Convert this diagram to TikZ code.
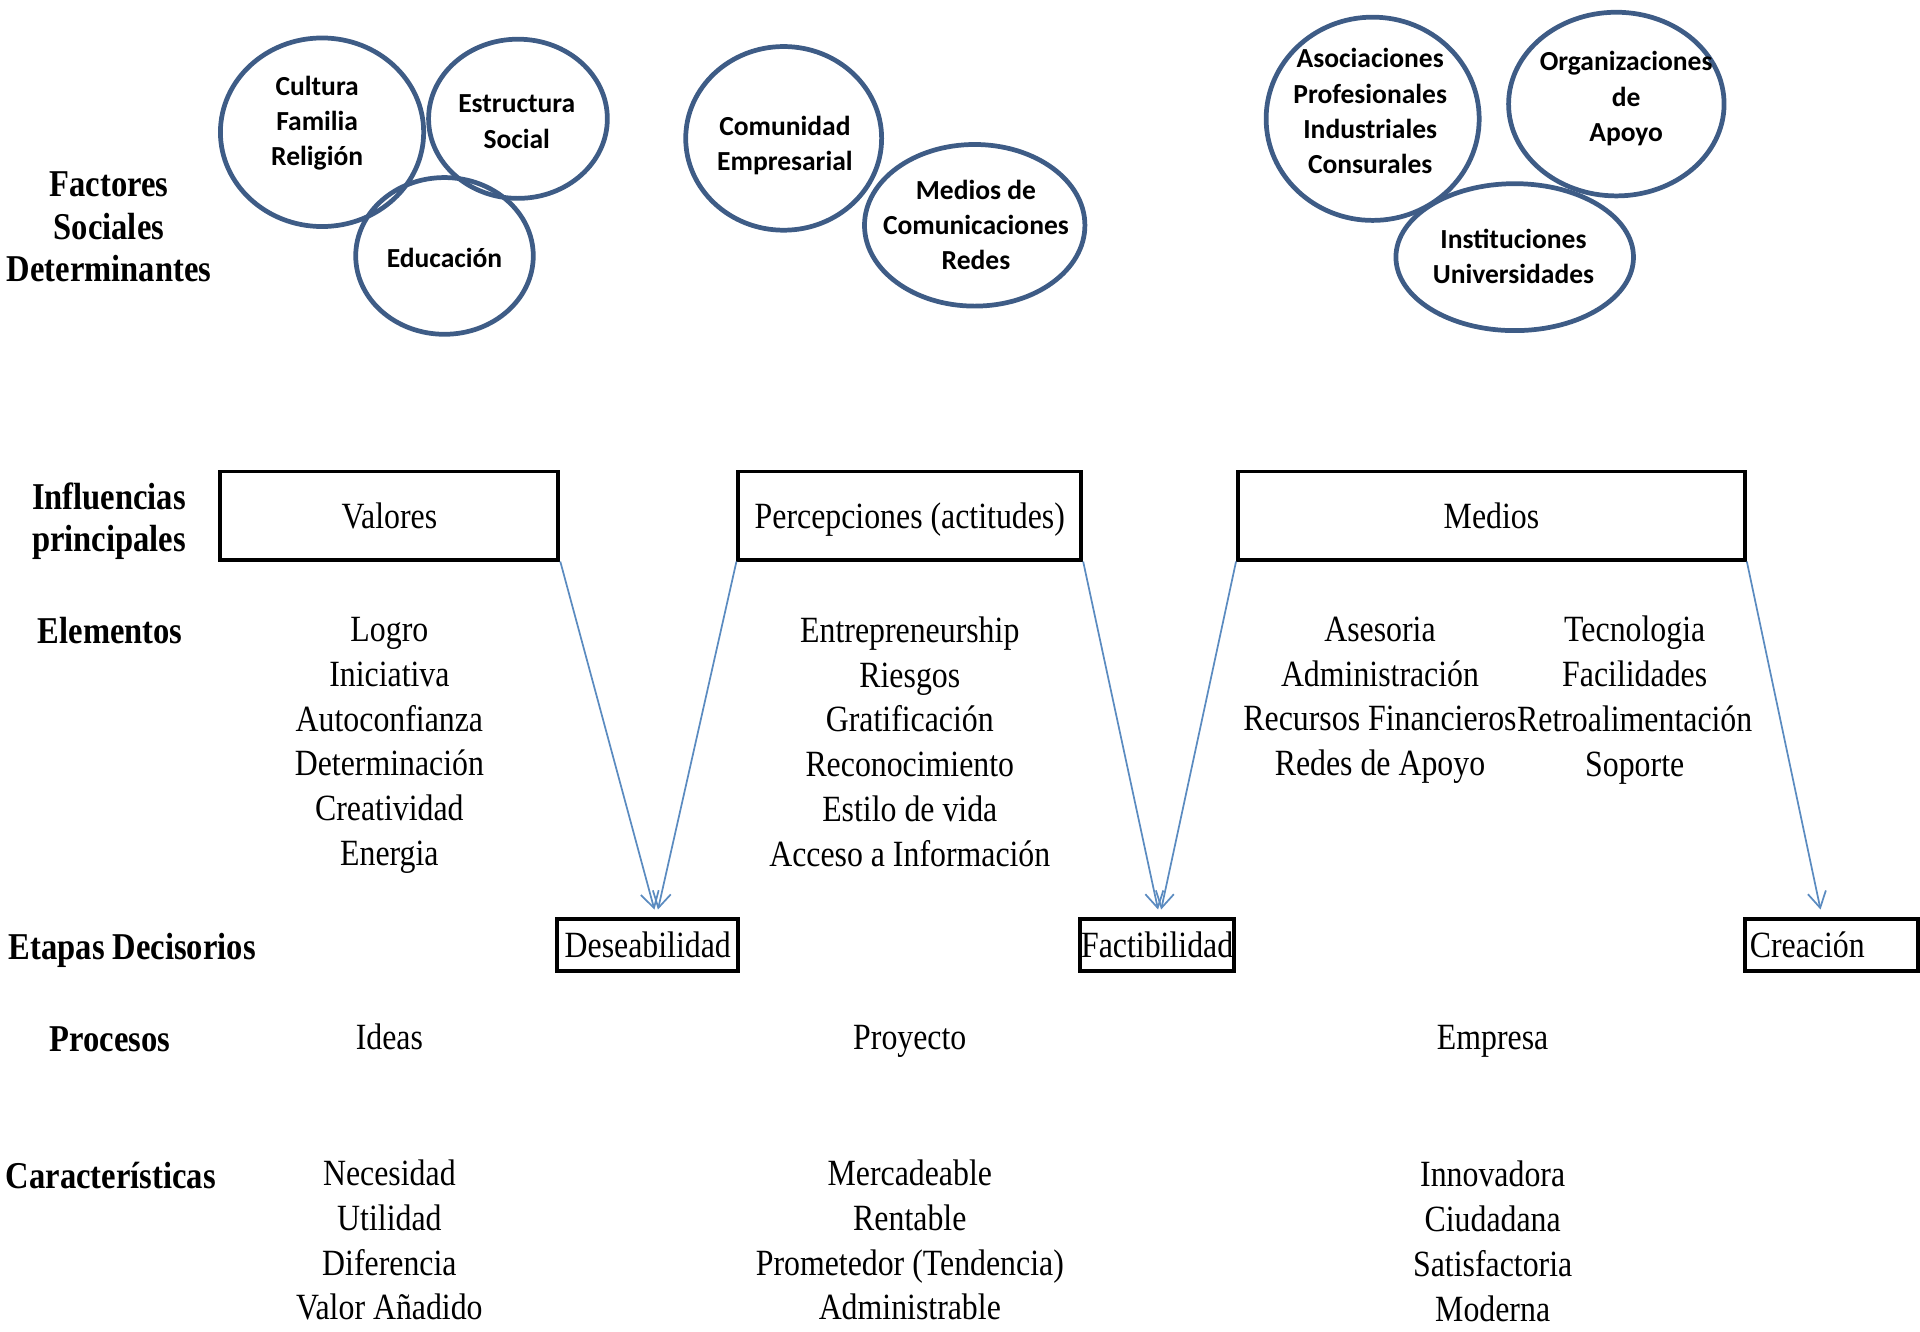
\documentclass[tikz,border=0pt]{standalone}
\usepackage{fontspec}
\setmainfont{Liberation Serif}[FakeStretch=0.86]
\newfontfamily\circfont{Carlito}
\usetikzlibrary{arrows.meta,shapes.geometric}

\definecolor{circblue}{HTML}{3E5C86}
\definecolor{arrblue}{HTML}{5B8BC0}

\begin{document}
\begin{tikzpicture}
  [circ/.style 2 args={draw=circblue,line width=1.1pt,ellipse,inner sep=0pt,outer sep=0pt,
                       minimum width=#1,minimum height=#2},
   ctext/.style={font=\circfont\bfseries\fontsize{6.4}{8.2}\selectfont,align=center,inner sep=0pt,
                 yshift=-0.4mm,execute at begin node=\strut,execute at end node=\strut},
   rowlabel/.style={font=\bfseries\fontsize{8.8}{9.9}\selectfont,align=center,inner sep=0pt,
                    yshift=-0.45mm,execute at begin node=\strut,execute at end node=\strut},
   item/.style={font=\fontsize{8.6}{10.4}\selectfont,align=center,inner sep=0pt,
                yshift=-0.55mm,execute at begin node=\strut,execute at end node=\strut},
   bigbox/.style={draw,line width=0.9pt,minimum height=0.72cm,inner sep=0pt,
                  font=\fontsize{8.6}{10.4}\selectfont,text height=9pt,text depth=3.1pt},
   smallbox/.style={draw,line width=0.9pt,minimum height=0.39cm,inner sep=0pt,
                    font=\fontsize{8.6}{10.4}\selectfont,text height=9pt,text depth=3.1pt},
   arr/.style={draw=arrblue,line width=0.4pt,-{Straight Barb[length=1.3mm,width=1.5mm]},
               shorten >=0.6mm}]
  \useasboundingbox (0,0) rectangle (15.68,10.87);

  \node[rowlabel] (factores) at (0.89,9.01) {Factores\\Sociales\\Determinantes};
  \node[rowlabel] (influencias) at (0.89,6.64) {Influencias\\principales};
  \node[rowlabel] (elementos) at (0.90,5.73) {Elementos};
  \node[rowlabel] (etapas) at (1.08,3.15) {Etapas Decisorios};
  \node[rowlabel] (procesos) at (0.90,2.40) {Procesos};
  \node[rowlabel] (caract) at (0.905,1.28) {Características};

  \node[circ={1.66cm}{1.54cm}] (cultura) at (2.63,9.79) {};
  \node[ctext] (cultura-t) at (2.59,9.88) {Cultura\\Familia\\Religión};
  \node[circ={1.46cm}{1.30cm}] (estructura) at (4.23,9.90) {};
  \node[ctext] (estructura-t) at (4.22,9.875) {Estructura\\Social};
  \node[circ={1.45cm}{1.28cm}] (educacion) at (3.63,8.78) {};
  \node[ctext] (educacion-t) at (3.63,8.78) {Educación};

  \node[circ={1.60cm}{1.50cm}] (comunidad) at (6.40,9.74) {};
  \node[ctext] (comunidad-t) at (6.41,9.695) {Comunidad\\Empresarial};
  \node[circ={1.80cm}{1.32cm}] (mcom) at (7.96,9.03) {};
  \node[ctext] (mcom-t) at (7.97,9.03) {Medios de\\Comunicaciones\\Redes};

  \node[circ={1.74cm}{1.66cm}] (asoc) at (11.21,9.90) {};
  \node[ctext] (asoc-t) at (11.19,9.96) {Asociaciones\\Profesionales\\Industriales\\Consurales};
  \node[circ={1.76cm}{1.50cm}] (organiz) at (13.20,10.02) {};
  \node[ctext] (organiz-t) at (13.28,10.08) {Organizaciones\\de\\Apoyo};
  \node[circ={1.94cm}{1.20cm}] (instit) at (12.37,8.77) {};
  \node[ctext] (instit-t) at (12.36,8.775) {Instituciones\\Universidades};

  \node[bigbox,minimum width=2.76cm] (valores) at (3.18,6.66) {Valores};
  \node[bigbox,minimum width=2.80cm] (percep) at (7.43,6.66) {Percepciones (actitudes)};
  \node[bigbox,minimum width=4.14cm] (medios) at (12.18,6.66) {Medios};

  \node[item] (val-list) at (3.18,4.815) {Logro\\Iniciativa\\Autoconfianza\\Determinación\\Creatividad\\Energia};
  \node[item] (per-list) at (7.43,4.815) {Entrepreneurship\\Riesgos\\Gratificación\\Reconocimiento\\Estilo de vida\\Acceso a Información};
  \node[item] (med-list1) at (11.27,5.185) {Asesoria\\Administración\\Recursos Financieros\\Redes de Apoyo};
  \node[item] (med-list2) at (13.35,5.185) {Tecnologia\\Facilidades\\Retroalimentación\\Soporte};

  \node[smallbox,minimum width=1.48cm] (des) at (5.29,3.155) {Deseabilidad};
  \node[smallbox,minimum width=1.26cm] (fact) at (9.45,3.155) {Factibilidad};
  \node[smallbox,minimum width=1.41cm,text width=1.33cm,align=left] (crea) at (14.955,3.155) {Creación};

  \draw[arr] (valores.south east) -- ([xshift=0.7mm]des.north);
  \draw[arr] (percep.south west) -- ([xshift=0.7mm]des.north);
  \draw[arr] (percep.south east) -- ([xshift=0.2mm]fact.north);
  \draw[arr] (medios.south west) -- ([xshift=0.2mm]fact.north);
  \draw[arr] (medios.south east) -- ([xshift=-0.75mm]crea.north);

  \node[item] (ideas) at (3.18,2.43) {Ideas};
  \node[item] (proyecto) at (7.43,2.43) {Proyecto};
  \node[item] (empresa) at (12.19,2.43) {Empresa};

  \node[item] (car-list1) at (3.18,0.745) {Necesidad\\Utilidad\\Diferencia\\Valor Añadido};
  \node[item] (car-list2) at (7.43,0.745) {Mercadeable\\Rentable\\Prometedor (Tendencia)\\Administrable};
  \node[item] (car-list3) at (12.19,0.735) {Innovadora\\Ciudadana\\Satisfactoria\\Moderna};
\end{tikzpicture}
\end{document}
